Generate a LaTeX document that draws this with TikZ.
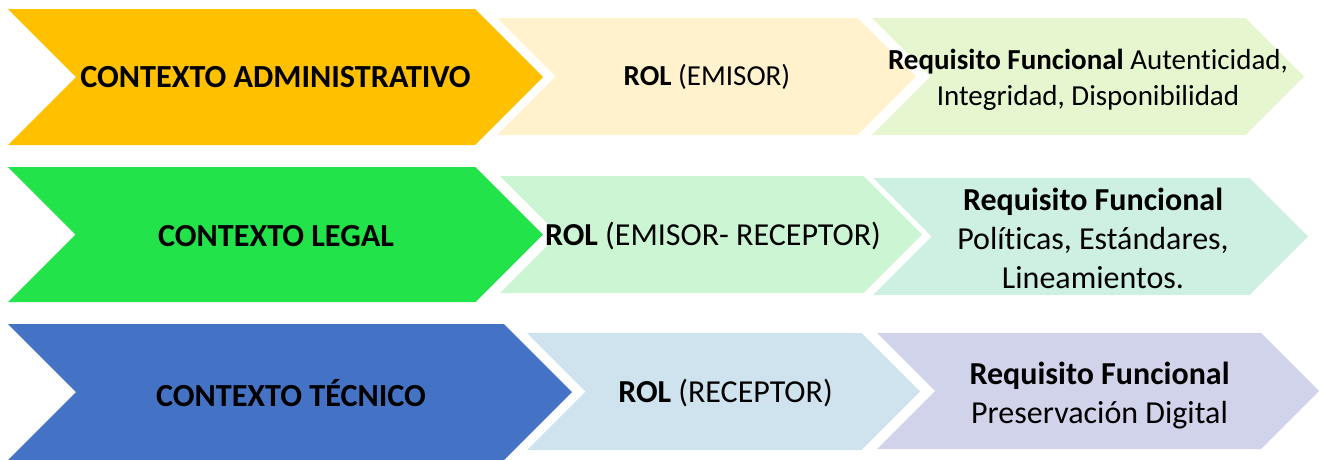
\documentclass[tikz,border=0pt]{standalone}
\usepackage{fontspec}
\setmainfont{Carlito}[Ligatures=CommonOff]
\definecolor{cAdmin}{HTML}{FFC000}
\definecolor{cAdminRol}{HTML}{FFF2CC}
\definecolor{cAdminReq}{HTML}{E6F7D0}
\definecolor{cLegal}{HTML}{22E34A}
\definecolor{cLegalRol}{HTML}{CCF5D3}
\definecolor{cLegalReq}{HTML}{CDF0E3}
\definecolor{cTec}{HTML}{4472C4}
\definecolor{cTecRol}{HTML}{CFE3EF}
\definecolor{cTecReq}{HTML}{D0D3EA}
% chevron: fill colour, left x, top y, bottom y, tip x
\newcommand\chev[5]{%
  \pgfmathsetmacro\hh{(#4-#3)/2}%
  \pgfmathsetmacro\rr{#5-\hh}%
  \pgfmathsetmacro\cc{(#3+#4)/2}%
  \fill[#1] (#2,#3) -- (\rr,#3) -- (#5,\cc) -- (\rr,#4) -- (#2,#4) -- (#2+\hh,\cc) -- cycle;}
\begin{document}
\begin{tikzpicture}[x=1pt,y=-1pt,
  bigtxt/.style={font=\fontsize{32.2}{39}\selectfont\bfseries, inner sep=0pt},
  smalltxt/.style={font=\fontsize{29}{36}\selectfont, align=center, inner sep=0pt},
  midtxt/.style={font=\fontsize{32}{39}\selectfont, align=center, inner sep=0pt}]
\useasboundingbox (0,0) rectangle (1323,459);
% row 1: administrative context
\chev{cAdmin}{8}{9}{145}{543}
\chev{cAdminRol}{497}{18}{135}{916}
\chev{cAdminReq}{872}{18}{135}{1304}
% row 2: legal context
\chev{cLegal}{8}{167}{302}{543}
\chev{cLegalRol}{500}{176}{293}{922}
\chev{cLegalReq}{873}{178}{295}{1308}
% row 3: technical context
\chev{cTec}{8}{324}{460}{572}
\chev{cTecRol}{527}{333}{450}{920}
\chev{cTecReq}{877}{333}{449}{1319}
% labels
\node[bigtxt] (ctxA) at (275.5,77) {CONTEXTO ADMINISTRATIVO};
\node[smalltxt] (rolA) at (707,77) {\textbf{ROL} (EMISOR)};
\node[smalltxt] (reqA) at (1088,80) {\textbf{Requisito Funcional} Autenticidad,\\Integridad, Disponibilidad};
\node[bigtxt] (ctxL) at (276,236) {CONTEXTO LEGAL};
\node[midtxt] (rolL) at (713,236) {\textbf{ROL} (EMISOR- RECEPTOR)};
\node[midtxt] (reqL) at (1093,238) {\textbf{Requisito Funcional}\\Políticas, Estándares,\\Lineamientos.};
\node[bigtxt] (ctxT) at (291,393) {CONTEXTO TÉCNICO};
\node[midtxt] (rolT) at (725.5,393) {\textbf{ROL} (RECEPTOR)};
\node[midtxt] (reqT) at (1099.5,396) {\textbf{Requisito Funcional}\\Preservación Digital};
\end{tikzpicture}
\end{document}
